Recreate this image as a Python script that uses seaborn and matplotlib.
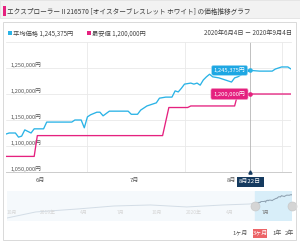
import matplotlib
matplotlib.use("Agg")
import matplotlib.pyplot as plt
import matplotlib.dates as mdates
import matplotlib.ticker as mticker
import matplotlib.transforms as mtrans
from matplotlib.patches import Rectangle
import pandas as pd
import seaborn as sns

# ---------------- data ----------------
avg_dates = ["2020-06-05", "2020-06-06", "2020-06-08", "2020-06-09", "2020-06-10", "2020-06-11",
             "2020-06-13", "2020-06-14", "2020-06-17", "2020-06-18", "2020-06-26", "2020-06-27",
             "2020-06-29", "2020-06-30", "2020-07-01", "2020-07-02", "2020-07-04", "2020-07-05",
             "2020-07-06", "2020-07-08", "2020-07-14", "2020-07-15", "2020-07-17", "2020-07-18",
             "2020-07-20", "2020-07-23", "2020-07-24", "2020-07-26", "2020-07-28", "2020-07-29",
             "2020-07-30", "2020-07-31", "2020-08-01", "2020-08-03", "2020-08-04", "2020-08-05",
             "2020-08-06", "2020-08-07", "2020-08-08", "2020-08-09", "2020-08-10", "2020-08-12",
             "2020-08-14", "2020-08-16", "2020-08-17", "2020-08-18", "2020-08-20", "2020-08-22",
             "2020-08-25", "2020-08-29", "2020-08-30", "2020-09-01", "2020-09-03", "2020-09-04"]
avg_values = [1123000, 1125000, 1125000, 1117000, 1119000, 1131000,
              1125000, 1133000, 1133000, 1146000, 1146000, 1150000,
              1150000, 1135000, 1156000, 1160000, 1165000, 1165000,
              1158000, 1167000, 1167000, 1161000, 1161000, 1169000,
              1177000, 1183000, 1192000, 1194000, 1194000, 1206000,
              1204000, 1211000, 1219000, 1221000, 1219000, 1221000,
              1217000, 1227000, 1233000, 1238000, 1233000, 1231000,
              1227000, 1223000, 1231000, 1233000, 1240000, 1245375,
              1244000, 1244000, 1248000, 1252000, 1252000, 1248000]

min_dates = ["2020-06-05", "2020-06-14", "2020-06-15", "2020-07-25", "2020-07-27",
             "2020-08-02", "2020-08-03", "2020-08-17", "2020-08-18", "2020-09-04"]
min_values = [1080000, 1080000, 1120000, 1120000, 1174000,
              1174000, 1177000, 1177000, 1200000, 1200000]

nav_hist_dates = ["2018-09-20", "2018-12-01", "2019-03-15", "2019-06-15",
                  "2019-09-15", "2019-12-15", "2020-03-15", "2020-05-20"]
nav_hist_values = [889000, 983000, 1029000, 1076000,
                   1092000, 1061000, 1092000, 1107000]

y_ticks = [1050000, 1100000, 1150000, 1200000, 1250000]
y_tick_labels = ["1,050,000円", "1,100,000円", "1,150,000円", "1,200,000円", "1,250,000円"]
month_mid_dates = ["2020-06-16", "2020-07-16", "2020-08-16"]
month_labels = ["6月", "7月", "8月"]
nav_label_dates = ["2018-10-01", "2019-01-01", "2019-04-01", "2019-07-01",
                   "2019-10-01", "2020-01-01", "2020-04-01", "2020-07-01"]
nav_labels = ["10月", "2019年", "4月", "7月", "10月", "2020年", "4月", "7月"]

title = "エクスプローラー II 216570 [オイスターブレスレット ホワイト] の価格推移グラフ"
avg_name = "平均価格"
min_name = "最安値"
date_range = "2020年6月4日 － 2020年9月4日"
hover_date = "2020-08-22"
hover_label = "8月22日"
buttons = ["1ヶ月", "3ヶ月", "1年", "2年"]

BLUE = "#2ab3e6"
PINK = "#e5217f"
BLUE_BOX = "#1ea7e3"
NAVY = "#153a5f"

# ---------------- style ----------------
sns.set_theme(style="white")
plt.rcParams["font.family"] = ["Noto Sans CJK JP", "DejaVu Sans"]

W, H = 300, 243
fig = plt.figure(figsize=(W / 100, H / 100), dpi=100)
fig.patch.set_facecolor("white")


def fx(x):
    return x / W


def fy(y):
    return 1 - y / H


def dn(s):
    return mdates.date2num(pd.Timestamp(s))


# title bar
fig.add_artist(Rectangle((fx(0), fy(18)), fx(300), 18 / H, transform=fig.transFigure,
                         fc="#f2f2f2", ec="#e2e2e2", lw=0.6))
fig.add_artist(Rectangle((fx(3), fy(16)), 2.5 / W, 10 / H, transform=fig.transFigure,
                         fc=PINK, ec="none"))
fig.text(fx(7), fy(11.5), title, fontsize=4.8, color="#3a3a3a", va="center", ha="left")

# outer box
fig.add_artist(Rectangle((fx(3), fy(240)), 293 / W, 218 / H, transform=fig.transFigure,
                         fc="none", ec="#d9d9d9", lw=0.7))

# legend row
hv_avg = avg_values[avg_dates.index(hover_date)]
hv_min = min_values[-1]
fig.add_artist(Rectangle((fx(8), fy(35)), 3.5 / W, 3.5 / H, transform=fig.transFigure,
                         fc=BLUE, ec="none"))
fig.text(fx(13), fy(33.2), f"{avg_name} {hv_avg:,}円",
         fontsize=4.5, color="#444444", va="center", ha="left")
fig.add_artist(Rectangle((fx(87), fy(35)), 3.5 / W, 3.5 / H, transform=fig.transFigure,
                         fc=PINK, ec="none"))
fig.text(fx(92), fy(33.2), f"{min_name} {hv_min:,}円",
         fontsize=4.5, color="#444444", va="center", ha="left")
fig.text(fx(292), fy(33.2), date_range, fontsize=4.5, color="#444444", va="center", ha="right")

# ---------------- main chart ----------------
ax = fig.add_axes([fx(6), fy(172), 285 / W, 130 / H])
ax.set_facecolor("none")
df_avg = pd.DataFrame({"date": pd.to_datetime(avg_dates), "value": avg_values})
df_min = pd.DataFrame({"date": pd.to_datetime(min_dates), "value": min_values})
sns.lineplot(data=df_min, x="date", y="value", ax=ax, color=PINK, lw=0.95, zorder=3)
sns.lineplot(data=df_avg, x="date", y="value", ax=ax, color=BLUE, lw=0.95, zorder=4)

ax.set_xlim(dn(avg_dates[0]), dn(avg_dates[-1]))
ax.set_ylim(1050000, 1300000)
ax.set_xlabel("")
ax.set_ylabel("")

ax.xaxis.set_major_locator(mdates.MonthLocator())
ax.xaxis.set_major_formatter(mticker.NullFormatter())
ax.xaxis.set_minor_locator(mticker.FixedLocator([dn(d) for d in month_mid_dates]))
ax.xaxis.set_minor_formatter(mticker.FixedFormatter(month_labels))
ax.tick_params(axis="x", which="both", length=0, pad=4.5, labelsize=4.3, labelcolor="#555555")

ax.set_yticks(y_ticks)
ax.set_yticklabels(y_tick_labels)
ax.tick_params(axis="y", length=0, pad=-3, labelsize=4.1, labelcolor="#555555")
for lab in ax.get_yticklabels():
    lab.set_ha("left")
    lab.set_va("bottom")

ax.grid(True, which="major", axis="both", color="#e9e9e9", lw=0.6)
for s in ["left", "right"]:
    ax.spines[s].set_visible(False)
ax.spines["top"].set_color("#e9e9e9")
ax.spines["top"].set_linewidth(0.6)
ax.spines["bottom"].set_color("#cccccc")
ax.spines["bottom"].set_linewidth(0.7)

# crosshair at hovered date
hd = dn(hover_date)
ax.axvline(hd, color="#b5b5b5", lw=0.6, zorder=2)
ax.plot([hd], [hv_avg], marker="o", ms=2.3, color=BLUE, zorder=6)
ax.plot([hd], [hv_min], marker="o", ms=2.3, color=PINK, zorder=6)
ax.annotate(f"{hv_avg:,}円", xy=(hd, hv_avg), xytext=(-3.5, 0), textcoords="offset points",
            ha="right", va="center", fontsize=4.2, color="white", zorder=7,
            bbox=dict(boxstyle="round,pad=0.35,rounding_size=0.3", fc=BLUE_BOX, ec="#9ad8f2", lw=0.4))
ax.annotate(f"{hv_min:,}円", xy=(hd, hv_min), xytext=(-3.5, 0), textcoords="offset points",
            ha="right", va="center", fontsize=4.2, color="white", zorder=7,
            bbox=dict(boxstyle="round,pad=0.45,rounding_size=0.3", fc=PINK, ec="#f19cc4", lw=0.4))
shift = ax.transData + mtrans.ScaledTranslation(-2.5 / 72, 0, fig.dpi_scale_trans)
ax.plot([hd], [hv_avg], marker=">", ms=2.2, color=BLUE_BOX, zorder=6, transform=shift)
ax.plot([hd], [hv_min], marker=">", ms=2.2, color=PINK, zorder=6, transform=shift)

# date tooltip under axis
trans_x = mtrans.blended_transform_factory(ax.transData, ax.transAxes)
ax.annotate(hover_label, xy=(hd, 0), xycoords=trans_x, xytext=(0, -7.0), textcoords="offset points",
            ha="center", va="center", fontsize=4.3, color="white", zorder=10, annotation_clip=False,
            bbox=dict(boxstyle="square,pad=0.4", fc=NAVY, ec="none"))
ax.plot([hd], [0], marker="^", ms=2.3, color=NAVY, transform=trans_x, clip_on=False, zorder=10)

# ---------------- navigator ----------------
nav = fig.add_axes([fx(7), fy(221), 285 / W, 30 / H])
nav.set_facecolor("#f5f9fc")
nav_df = pd.DataFrame({"date": pd.to_datetime(nav_hist_dates + avg_dates),
                       "value": nav_hist_values + avg_values})
sns.lineplot(data=nav_df, x="date", y="value", ax=nav, color="#d3dde6", lw=0.7)
nav.set_xlim(dn(nav_hist_dates[0]), dn(avg_dates[-1]))
nav.set_ylim(842000, 1310000)
nav.axvspan(dn("2020-06-04"), dn(avg_dates[-1]), color="#d8eef9", zorder=0)
sns.lineplot(data=df_avg, x="date", y="value", ax=nav, color="#8ea3b3", lw=0.7)
trans_n = mtrans.blended_transform_factory(nav.transData, nav.transAxes)
for d, lab in zip(nav_label_dates, nav_labels):
    c = "#777777" if dn(d) >= dn("2020-06-04") else "#d6d6d6"
    nav.text(dn(d), 0.3, lab, transform=trans_n, fontsize=3.6, color=c,
             ha="center", va="center")
for d in ["2020-06-04", avg_dates[-1]]:
    nav.plot([dn(d)], [0.5], marker="o", ms=6.5, color="#d5d5d5", mec="#c5c5c5",
             mew=0.4, transform=trans_n, clip_on=False, zorder=5)
nav.set_xticks([])
nav.set_yticks([])
nav.set_xlabel("")
nav.set_ylabel("")
for s in nav.spines.values():
    s.set_visible(False)

# period buttons
fig.text(fx(240), fy(233), buttons[0], fontsize=4.3, color="#555555", ha="center", va="center")
fig.add_artist(Rectangle((fx(253), fy(237.5)), 14 / W, 9 / H, transform=fig.transFigure,
                         fc="#ec6467", ec="none"))
fig.text(fx(260), fy(233), buttons[1], fontsize=4.3, color="white", ha="center", va="center")
fig.text(fx(277), fy(233), buttons[2], fontsize=4.3, color="#555555", ha="center", va="center")
fig.text(fx(289), fy(233), buttons[3], fontsize=4.3, color="#555555", ha="center", va="center")

fig.savefig("out.png", dpi=100, facecolor="white")
